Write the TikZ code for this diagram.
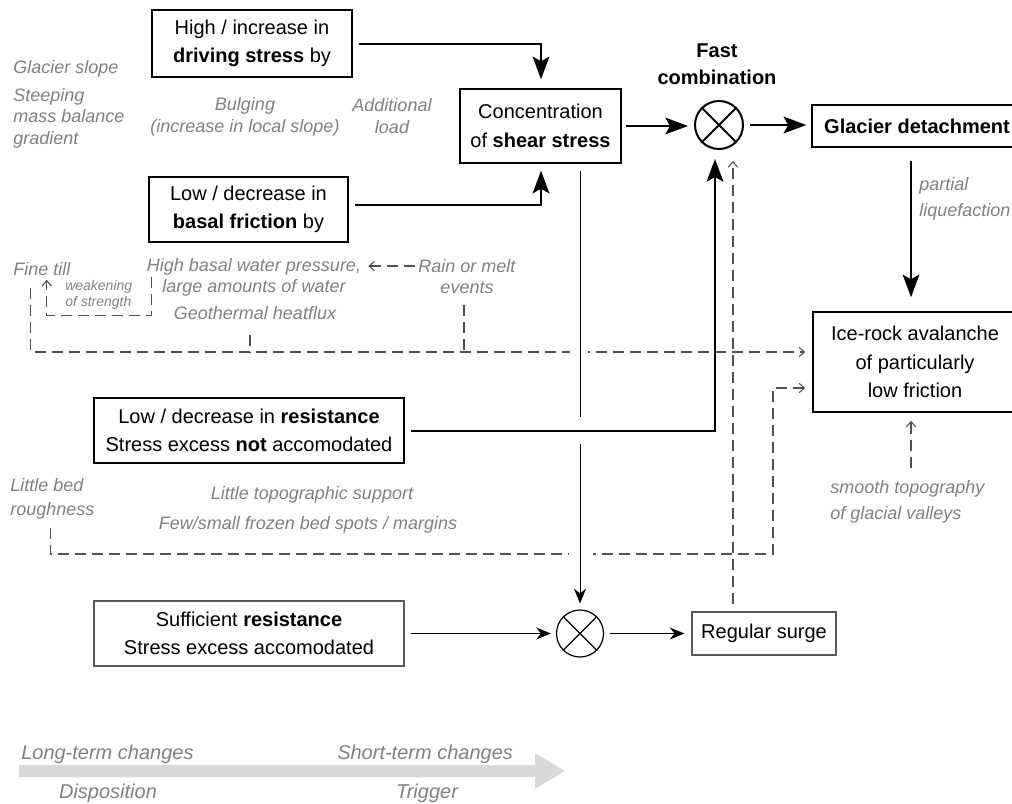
\documentclass[tikz,border=0pt]{standalone}
\usepackage{fontspec}
\setmainfont{Liberation Sans}
\usetikzlibrary{arrows.meta,calc}
\definecolor{txtgray}{RGB}{128,128,128}
\definecolor{dshgray}{RGB}{80,80,80}
\definecolor{bargray}{RGB}{217,217,217}
\begin{document}
\begin{tikzpicture}[x=0.75pt,y=-0.75pt,
  boxthick/.style={draw, line width=1.5pt, inner sep=0pt, align=center, font=\fontsize{15}{21}\selectfont},
  boxmid/.style={draw, line width=1.1pt, inner sep=0pt, align=center, font=\fontsize{15}{21.4}\selectfont},
  boxthin/.style={draw=black!65, line width=0.85pt, inner sep=0pt, align=center, font=\fontsize{15}{21}\selectfont},
  lbl/.style={inner sep=0pt, text=txtgray, font=\fontsize{13.5}{16.5}\selectfont\itshape},
  bigarr/.style={line width=1.5pt, -{Stealth[length=17pt,width=12.5pt,inset=3.5pt]}},
  thinarr/.style={line width=0.75pt, -{Stealth[length=11pt,width=9pt,inset=3.5pt]}},
  dsh/.style={draw=dshgray, line width=0.8pt, dash pattern=on 8.25pt off 4.5pt, -{Straight Barb[length=4pt,width=7pt]}},
  dshline/.style={draw=dshgray, line width=0.8pt, dash pattern=on 8.25pt off 4.5pt},
]
\useasboundingbox (0,0) rectangle (1012,803);

% ---------- boxes ----------
\node[boxthick, minimum width=150pt, minimum height=50.25pt] (drv) at (252,43.5) {High / increase in\\\textbf{driving stress} by};
\node[boxthick, minimum width=149.25pt, minimum height=48.75pt] (bas) at (248.5,209.5) {Low / decrease in\\\textbf{basal friction} by};
\node[boxmid, minimum width=120.75pt, minimum height=55.5pt] (con) at (540.5,126) {Concentration\\of \textbf{shear stress}};
\node[boxmid, minimum width=157.5pt, minimum height=31.5pt] (det) at (917,126) {\textbf{Glacier detachment}};
\node[boxmid, minimum width=153pt, minimum height=75pt] (ava) at (915,362) {Ice-rock avalanche\\of particularly\\low friction};
\node[boxthick, minimum width=232.5pt, minimum height=48.75pt] (res) at (249,430.5) {Low / decrease in \textbf{resistance}\\Stress excess \textbf{not} accomodated};
\node[boxthin, minimum width=232.5pt, minimum height=48.75pt] (suf) at (249,633.5) {Sufficient \textbf{resistance}\\Stress excess accomodated};
\node[boxthin, minimum width=108pt, minimum height=32.25pt] (sur) at (764,633.5) {Regular surge};

% ---------- combination circles ----------
\node[circle, draw, line width=1.5pt, minimum size=36pt, inner sep=0pt] (fc) at (719,125) {};
\draw[line width=1.5pt] (fc.north west) -- (fc.south east) (fc.north east) -- (fc.south west);
\node[inner sep=0pt, align=center, font=\fontsize{15}{20.25}\selectfont\bfseries] (fast) at (717,64) {Fast\\combination};
\node[circle, draw, line width=0.9pt, minimum size=35.25pt, inner sep=0pt] (c2) at (580,633.5) {};
\draw[line width=0.9pt] (c2.north west) -- (c2.south east) (c2.north east) -- (c2.south west);

% ---------- grey labels ----------
\node[lbl, anchor=west] (gs) at (13,69) {Glacier slope};
\node[lbl, anchor=west, align=left, font=\fontsize{13.5}{16.1}\selectfont\itshape] (smb) at (13,118) {Steeping\\mass balance\\gradient};
\node[lbl, align=center] (bul) at (245,117) {Bulging\\(increase in local slope)};
\node[lbl, align=center] (addl) at (392,116) {Additional\\load};
\node[lbl, anchor=west] (fine) at (13,269) {Fine till};
\node[lbl, anchor=west, align=left, font=\fontsize{10.5}{12}\selectfont\itshape] (weak) at (65,295) {weakening\\of strength};
\node[lbl, align=center, font=\fontsize{13.5}{15.75}\selectfont\itshape] (hbw) at (254,277) {High basal water pressure,\\large amounts of water};
\node[lbl] (geo) at (255,313) {Geothermal heatflux};
\node[lbl, align=center, font=\fontsize{13.5}{15.75}\selectfont\itshape] (rain) at (467,277) {Rain or melt\\events};
\node[lbl, anchor=west, align=left, font=\fontsize{13.5}{18}\selectfont\itshape] (lbr) at (10,499) {Little bed\\roughness};
\node[lbl] (lts) at (312,495) {Little topographic support};
\node[lbl] (fsf) at (308,525) {Few/small frozen bed spots / margins};
\node[lbl, anchor=west, align=left, font=\fontsize{13.5}{19.5}\selectfont\itshape] (smt) at (830,502) {smooth topography\\of glacial valleys};
\node[lbl, anchor=west, align=left, font=\fontsize{13.5}{19.5}\selectfont\itshape] (pl) at (919,199) {partial\\liquefaction};

% ---------- bottom time arrow ----------
\fill[bargray] (19,765) -- (535,765) -- (535,753) -- (565,771) -- (535,789) -- (535,777) -- (19,777) -- cycle;
\node[lbl, anchor=west, font=\fontsize{15}{18}\selectfont\itshape] (ltc) at (21,754) {Long-term changes};
\node[lbl, anchor=west, font=\fontsize{15}{18}\selectfont\itshape] (stc) at (337,754) {Short-term changes};
\node[lbl, font=\fontsize{15}{18}\selectfont\itshape] (dis) at (108,793) {Disposition};
\node[lbl, font=\fontsize{15}{18}\selectfont\itshape] (trg) at (427,793) {Trigger};

% ---------- dashed connectors ----------
\coordinate (jg) at (250,352);
\coordinate (je) at (464,352);
\coordinate (jb) at (773,554);
\draw[dsh] ($(rain.west)+(-3,-11)$) -- ($(hbw.east)+(7,-11)$);
\draw[dsh] ($(hbw.west)+(5,0)$) |- ($(fine.south)+(5,40)$) -- ($(fine.south)+(5,4)$);
\draw[dsh] ($(fine.south)+(-11,12)$) |- ($(ava.west)+(-7,-10)$);
\draw[dshline] ($(geo.south)+(-5,15)$) -- (jg);
\draw[dshline] ($(rain.south)+(-3,11)$) -- (je);
\draw[dsh] ($(lbr.south)+(-2,8)$) |- (jb) |- ($(ava.west)+(-7,26)$);
\draw[dsh] ($(ava.south |- smt.north)+(-4,-12)$) -- ($(ava.south)+(-4,8)$);
\draw[dsh] ($(sur.north)+(-31,-7)$) -- ($(fc.south)+(14,11)$);

% gaps of the dashed lines where the thin line passes
\fill[white] (569,547) rectangle (593,561);
\fill[white] (570,345) rectangle (588,359);

% ---------- thin connectors ----------
\draw[thinarr] ($(con.south)+(39.5,7)$) -- ($(c2.north)+(0,-6)$);
\draw[thinarr] ($(suf.east)+(6,0)$) -- ($(c2.west)+(-5,0)$);
\draw[thinarr] ($(c2.east)+(6,0)$) -- ($(sur.west)+(-7,0)$);

% gap of the thin line under the thick one
\fill[white] (575,417) rectangle (585,444);

% ---------- thick connectors ----------
\draw[bigarr] ($(drv.east)+(6,0)$) -| ($(con.north)+(0.5,-9)$);
\draw[bigarr] ($(bas.east)+(6,-5)$) -| ($(con.south)+(0.5,7)$);
\draw[bigarr] ($(con.east)+(4,0)$) -- ($(con.east -| fc.west)+(-6,0)$);
\draw[bigarr] ($(fc.east)+(6,0)$) -- ($(fc.east -| det.west)+(-5,0)$);
\draw[bigarr] ($(det.south)+(-6,13)$) -- ($(ava.north)+(-4,-14)$);
\draw[bigarr] ($(res.east)+(6,0)$) -| ($(fc.south)+(-4,9)$);
\end{tikzpicture}
\end{document}
